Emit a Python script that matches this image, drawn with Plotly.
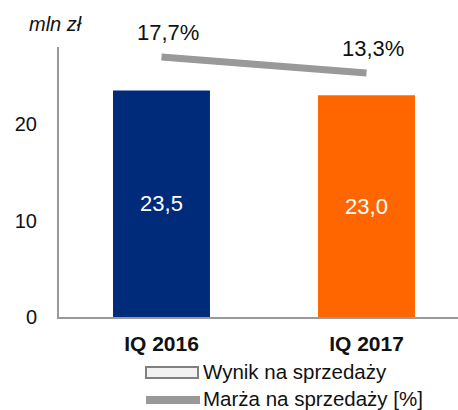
import plotly.graph_objects as go

categories = ["IQ 2016", "IQ 2017"]
wynik = [23.5, 23.0]
marza = [17.7, 13.3]
bar_colors = ["#002A7A", "#FF6600"]
y_ticks = [0, 10, 20]

FONT = "Liberation Sans, Arial, sans-serif"

W, H = 458, 410
L, R, T, B = 59, 0, 47, 93
pw, ph = W - L - R, H - T - B


def px_x(x):
    return (x - L) / pw


def px_y(y):
    return (H - B - y) / ph


fig = go.Figure()

fig.add_trace(go.Bar(
    x=categories, y=wynik,
    marker=dict(color=bar_colors, line=dict(width=0)),
    width=0.473,
    texttemplate="%{y:.1f}",
    textposition="inside",
    insidetextanchor="middle",
    textfont=dict(color="white", size=22, family=FONT),
    showlegend=False,
    name="Wynik na sprzedaży",
))

fig.add_trace(go.Scatter(
    x=categories, y=marza,
    yaxis="y2",
    mode="lines",
    line=dict(color="#999999", width=7),
    showlegend=False,
    name="Marża na sprzedaży [%]",
))

annotations = []
for c, v in zip(categories, marza):
    annotations.append(dict(
        x=c, y=v, xref="x", yref="y2",
        text=f"{v:.1f}%".replace(".", ","),
        showarrow=False, yanchor="bottom", yshift=10, xshift=6,
        font=dict(size=22, color="#111111", family=FONT),
    ))

annotations.append(dict(
    x=px_x(55), y=px_y(24), xref="paper", yref="paper",
    text="<i>mln zł</i>", showarrow=False,
    xanchor="center", yanchor="middle",
    font=dict(size=20, color="#111111", family=FONT),
))

# manual legend
annotations.append(dict(
    x=px_x(202), y=px_y(371), xref="paper", yref="paper",
    text="Wynik na sprzedaży", showarrow=False,
    xanchor="left", yanchor="middle", borderpad=0,
    font=dict(size=20.5, color="#111111", family=FONT),
))
annotations.append(dict(
    x=px_x(202), y=px_y(398), xref="paper", yref="paper",
    text="Marża na sprzedaży [%]", showarrow=False,
    xanchor="left", yanchor="middle", borderpad=0,
    font=dict(size=20.5, color="#111111", family=FONT),
))

shapes = [
    dict(type="rect", xref="paper", yref="paper",
         x0=px_x(146), x1=px_x(198), y0=px_y(367), y1=px_y(378),
         fillcolor="#F2F2F2", line=dict(color="#808080", width=2)),
    dict(type="line", xref="paper", yref="paper",
         x0=px_x(146), x1=px_x(200), y0=px_y(400), y1=px_y(400),
         line=dict(color="#999999", width=8)),
]

fig.update_layout(
    width=W, height=H,
    margin=dict(l=L, r=R, t=T, b=B),
    paper_bgcolor="white", plot_bgcolor="white",
    separators=", ",
    font=dict(family=FONT, color="#111111"),
    xaxis=dict(
        range=[-0.5, -0.5 + pw / 205],
        showline=True, linecolor="#999999", linewidth=2,
        showgrid=False, ticks="",
        tickfont=dict(size=21, family=FONT, color="#111111"),
        tickprefix="<b>", ticksuffix="</b>",
        ticklabelstandoff=7,
    ),
    yaxis=dict(
        range=[0, 28], tickvals=y_ticks,
        showline=True, linecolor="#999999", linewidth=2,
        showgrid=False, zeroline=False, ticks="",
        tickfont=dict(size=20, family=FONT, color="#111111"),
        ticklabelstandoff=16,
    ),
    yaxis2=dict(
        overlaying="y", range=[-53.8, 20.45],
        visible=False, showgrid=False, zeroline=False,
    ),
    annotations=annotations,
    shapes=shapes,
)

# drop the default 8px body margin so the figure sits at the window's corner
fig.write_html(
    "out.html",
    config={"displayModeBar": False},
    post_script="document.body.style.margin='0';",
)
